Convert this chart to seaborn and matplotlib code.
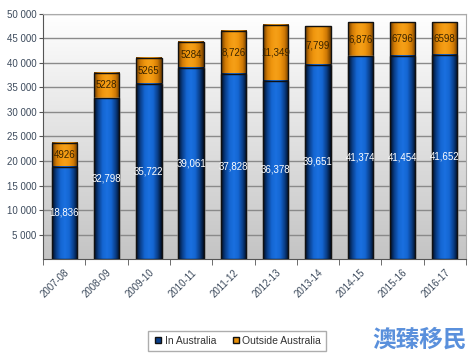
import numpy as np
import pandas as pd
import matplotlib
matplotlib.use("Agg")
import matplotlib.pyplot as plt
from matplotlib.colors import LinearSegmentedColormap
from matplotlib.lines import Line2D
import seaborn as sns

# ---- data ----
years = ["2007-08", "2008-09", "2009-10", "2010-11", "2011-12",
         "2012-13", "2013-14", "2014-15", "2015-16", "2016-17"]
in_australia = [18836, 32798, 35722, 39061, 37828, 36378, 39651, 41374, 41454, 41652]
outside_australia = [4926, 5228, 5265, 5284, 8726, 11349, 7799, 6876, 6796, 6598]
in_labels = ["18,836", "32,798", "35,722", "39,061", "37,828",
             "36,378", "39,651", "41,374", "41,454", "41,652"]
out_labels = ["4926", "5228", "5265", "5284", "8,726",
              "11,349", "7,799", "6,876", "6796", "6598"]

df = pd.DataFrame({"year": years, "inside": in_australia, "outside": outside_australia})
df["total"] = df["inside"] + df["outside"]

sns.set_style("white")
plt.rcParams["font.family"] = ["Liberation Sans", "DejaVu Sans"]

fig = plt.figure(figsize=(4.74, 3.55), dpi=100)
ax = fig.add_axes([0.091, 0.270, 0.892, 0.691])

# fond en degrade (gris en bas, blanc en haut)
bg = np.linspace(0, 1, 256).reshape(-1, 1)
bg_cmap = LinearSegmentedColormap.from_list("bg", ["#c4c4c4", "#ffffff"])
ax.imshow(bg, extent=[0, 1, 0, 1], transform=ax.transAxes, cmap=bg_cmap,
          aspect="auto", zorder=0, origin="lower")

sns.barplot(data=df, x="year", y="total", color="#e8900a", width=0.6,
            ax=ax, zorder=3, saturation=1)
sns.barplot(data=df, x="year", y="inside", color="#0a56b5", width=0.6,
            ax=ax, zorder=4, saturation=1)

blue_cmap = LinearSegmentedColormap.from_list(
    "b", ["#000c20", "#0a3f8a", "#1466d2", "#1a70e0", "#1466d2", "#0a3f8a", "#000c20"])
orange_cmap = LinearSegmentedColormap.from_list(
    "o", ["#6a3a00", "#d07a05", "#f0960e", "#f5a018", "#f0960e", "#d07a05", "#6a3a00"])
grad = np.linspace(0, 1, 128).reshape(1, -1)

for cont, cmap, z in [(ax.containers[0], orange_cmap, 3), (ax.containers[1], blue_cmap, 4)]:
    for p in cont:
        x0, y0, w, h = p.get_x(), p.get_y(), p.get_width(), p.get_height()
        ax.imshow(grad, extent=[x0, x0 + w, y0, y0 + h], cmap=cmap,
                  aspect="auto", zorder=z + 0.1, origin="lower")
        ax.add_patch(plt.Rectangle((x0, y0), w, h, fill=False,
                                   edgecolor="#111111", lw=1.0, zorder=z + 0.2))

ax.set_xlim(-0.5, 9.5)
ax.set_ylim(0, 50000)

# etiquettes
for i in range(len(years)):
    ax.text(i, in_australia[i] / 2, in_labels[i], ha="center", va="center",
            color="white", fontsize=7, zorder=6)
    ax.text(i, in_australia[i] + outside_australia[i] / 2, out_labels[i],
            ha="center", va="center", color="#3a2400", fontsize=7, zorder=6)

# axes
ax.set_yticks(range(5000, 50001, 5000))
ax.set_yticklabels([f"{v // 1000} 000" for v in range(5000, 50001, 5000)],
                   color="#3c4a5c", fontsize=7)
ax.yaxis.grid(True, color="#8a8a8a", lw=1.0, zorder=1)
ax.set_axisbelow(True)
ax.tick_params(axis="y", length=3, pad=2, color="#555555", left=True)
ax.set_xticks(range(len(years)))
ax.set_xticklabels(years, rotation=45, ha="right", rotation_mode="anchor",
                   color="#3c4a5c", fontsize=7)
ax.tick_params(axis="x", length=0, pad=6)
ax.set_xticks(np.arange(-0.5, 10, 1), minor=True)
ax.tick_params(axis="x", which="minor", length=4, color="#555555", bottom=True)
ax.set_xlabel("")
ax.set_ylabel("")
for s in ["top", "right"]:
    ax.spines[s].set_color("#aaaaaa")
for s in ["left", "bottom"]:
    ax.spines[s].set_color("#555555")

handles = [Line2D([], [], marker="s", ls="", markersize=5, markerfacecolor="#0a3f8a",
                  markeredgecolor="#111111"),
           Line2D([], [], marker="s", ls="", markersize=5, markerfacecolor="#e8900a",
                  markeredgecolor="#111111")]
leg = fig.legend(handles, ["In Australia", "Outside Australia"], loc="center",
                 bbox_to_anchor=(0.5, 0.04), ncol=2, fontsize=7.5, frameon=True,
                 fancybox=False, handletextpad=0.1, columnspacing=1.4,
                 borderpad=0.5, handlelength=1.0)
leg.get_frame().set_edgecolor("#999999")
for t in leg.get_texts():
    t.set_color("#333333")

fig.text(0.886, 0.042, "澳臻移民", ha="center", va="center", fontsize=17,
         fontweight="bold", color="#5a90dc",
         family=["Noto Sans CJK SC", "DejaVu Sans"])

fig.savefig("out.png", dpi=100)
